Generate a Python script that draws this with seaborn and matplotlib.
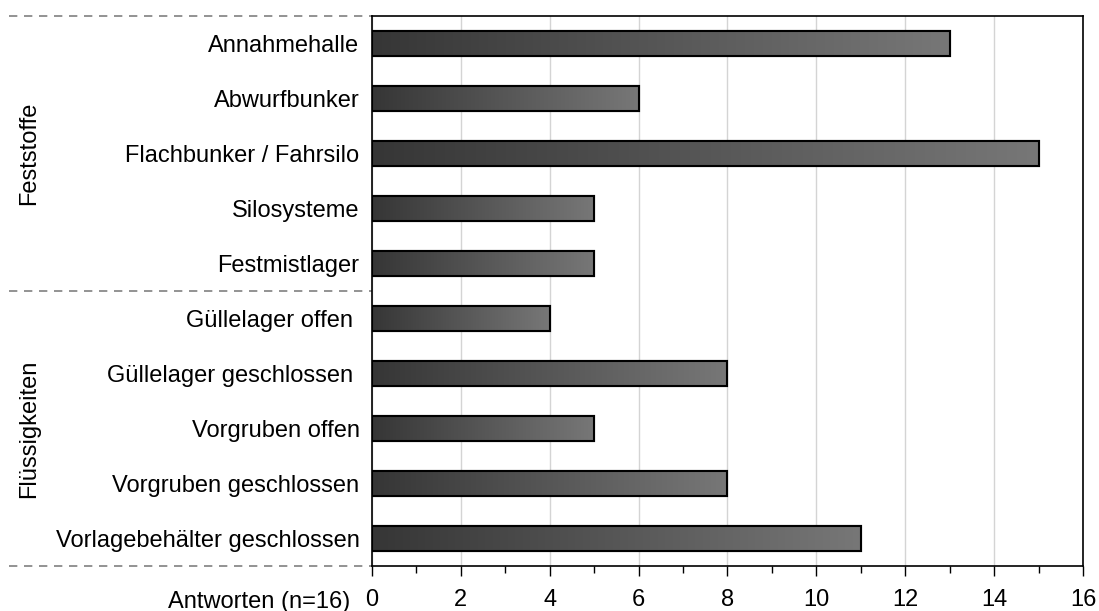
import matplotlib
matplotlib.use("Agg")
import matplotlib.pyplot as plt
import numpy as np
import pandas as pd
import seaborn as sns
from matplotlib.ticker import MultipleLocator

categories = [
    "Annahmehalle",
    "Abwurfbunker",
    "Flachbunker / Fahrsilo",
    "Silosysteme",
    "Festmistlager",
    "Güllelager offen ",
    "Güllelager geschlossen ",
    "Vorgruben offen",
    "Vorgruben geschlossen",
    "Vorlagebehälter geschlossen",
]
answers = [13, 6, 15, 5, 5, 4, 8, 5, 8, 11]
groups = ["Feststoffe"] * 5 + ["Flüssigkeiten"] * 5
group_names = ["Feststoffe", "Flüssigkeiten"]
x_label = "Antworten (n=16)"

df = pd.DataFrame({"kategorie": categories, "antworten": answers, "gruppe": groups})

sns.set_style("white")
plt.rcParams["font.family"] = ["Liberation Sans", "DejaVu Sans"]
for k in ["text.color", "xtick.color", "ytick.color", "axes.labelcolor"]:
    plt.rcParams[k] = "black"

fig = plt.figure(figsize=(10.99, 6.11), dpi=100)
ax = fig.add_axes([0.3385, 0.0736, 0.6469, 0.9002])

sns.barplot(data=df, y="kategorie", x="antworten", orient="h", ax=ax,
            color="#555555", width=0.44, edgecolor="black", linewidth=1.5)

# Farbverlauf in jedem Balken
grad = np.linspace(0, 1, 256).reshape(1, -1)
cmap = matplotlib.colors.LinearSegmentedColormap.from_list("g", ["#363636", "#777777"])
for p in list(ax.patches):
    x0, y0 = p.get_x(), p.get_y()
    w, h = p.get_width(), p.get_height()
    im = ax.imshow(grad, extent=[x0, x0 + w, y0 + h, y0], cmap=cmap,
                   aspect="auto", zorder=p.get_zorder() + 0.1, interpolation="bilinear")
    im.set_clip_path(p)
    edge = plt.Rectangle((x0, y0), w, h, fill=False, edgecolor="black",
                         linewidth=1.5, zorder=p.get_zorder() + 0.2)
    ax.add_patch(edge)

ax.set_xlim(0, 16)
ax.set_ylim(len(categories) - 0.5, -0.5)
ax.xaxis.set_major_locator(MultipleLocator(2))
ax.xaxis.set_minor_locator(MultipleLocator(1))
ax.grid(axis="x", which="major", color="#d4d4d4", linewidth=1)
ax.set_axisbelow(True)
ax.tick_params(axis="x", which="major", direction="out", length=7, width=1,
               bottom=True, labelsize=17, pad=9.5, color="black")
ax.tick_params(axis="x", which="minor", direction="out", length=5, width=1,
               bottom=True, color="black")
ax.tick_params(axis="y", length=0, labelsize=17, pad=9)
for s in ax.spines.values():
    s.set_color("black")
    s.set_linewidth(1.2)
ax.set_xlabel("")
ax.set_ylabel("")

ax.annotate(x_label, xy=(0, 0), xycoords="axes fraction", xytext=(-16, -26),
            textcoords="offset points", ha="right", va="center", fontsize=17)

# Gruppentrennlinien und Gruppenbeschriftung
trans = ax.get_yaxis_transform()
for yb in [-0.5, 4.5, 9.5]:
    ax.plot([-0.51, 0], [yb, yb], transform=trans, clip_on=False,
            color="#808080", linestyle=(0, (5, 4)), linewidth=1.2)

starts = [0, 5]
for name, st in zip(group_names, starts):
    ax.text(-0.483, st + 2.0, name, transform=trans, rotation=90,
            ha="center", va="center", fontsize=17)

fig.savefig("out.png", dpi=100)
